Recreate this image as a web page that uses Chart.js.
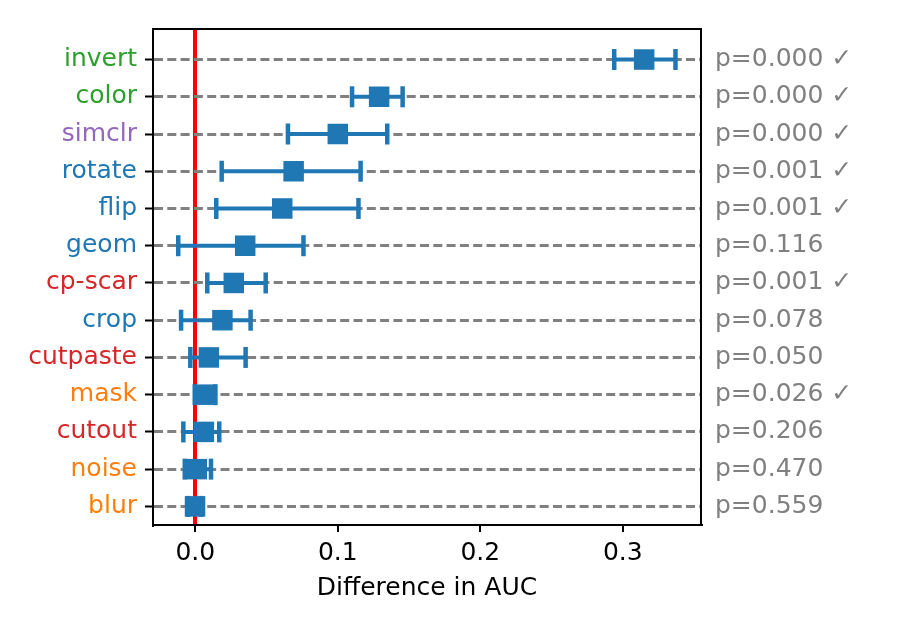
<!DOCTYPE html>
<html>
<head>
<meta charset="utf-8">
<script src="https://cdn.jsdelivr.net/npm/chart.js@4.4.1/dist/chart.umd.min.js"></script>
<style>
    html, body { margin: 0; padding: 0; background: #fff; }
</style>
</head>
<body>
<canvas id="auc-chart" width="900" height="630"></canvas>
<script>
// augmentations, top to bottom
const names = ['invert', 'color', 'simclr', 'rotate', 'flip', 'geom', 'cp-scar', 'crop', 'cutpaste', 'mask', 'cutout', 'noise', 'blur'];
const labelColors = ['#2ca02c', '#2ca02c', '#9467bd', '#1f77b4', '#1f77b4', '#1f77b4', '#d62728', '#1f77b4', '#d62728', '#ff7f0e', '#d62728', '#ff7f0e', '#ff7f0e'];

// difference in AUC: mean and confidence interval
const meanDiff = [0.315, 0.129, 0.100, 0.069, 0.061, 0.035, 0.027, 0.019, 0.0095, 0.0068, 0.006, 0.001, -0.0002];
const lowerDiff = [0.294, 0.110, 0.065, 0.0185, 0.0147, -0.012, 0.0084, -0.010, -0.0035, -0.0004, -0.0084, -0.0074, -0.005];
const upperDiff = [0.337, 0.1455, 0.1347, 0.116, 0.1145, 0.0759, 0.0494, 0.0388, 0.0353, 0.0141, 0.0168, 0.011, 0.004];

// p-values, shown on the right
const pValues = ['0.000', '0.000', '0.000', '0.001', '0.001', '0.116', '0.001', '0.078', '0.050', '0.026', '0.206', '0.470', '0.559'];

const xTicks = [0, 0.1, 0.2, 0.3];

const blue = '#1f77b4';
Chart.defaults.font.family = 'DejaVu Sans';
Chart.defaults.font.size = 25;
Chart.defaults.color = '#000';

// горизонтальные отрезки доверительных интервалов, разрывы через NaN
const ciLine = [];
names.forEach((_, i) => {
    ciLine.push({ x: lowerDiff[i], y: i });
    ciLine.push({ x: upperDiff[i], y: i });
    ciLine.push({ x: NaN, y: NaN });
});
const caps = names.flatMap((_, i) => [{ x: lowerDiff[i], y: i }, { x: upperDiff[i], y: i }]);
const markers = names.map((_, i) => ({ x: meanDiff[i], y: i }));

const yMin = -0.82;
const yMax = 12.5;
const xMin = -0.0297;
const xMax = 0.3549;
const rowTicks = axis => { axis.ticks = names.map((_, i) => ({ value: i })); };

new Chart(document.getElementById('auc-chart'), {
    type: 'scatter',
    data: {
        datasets: [
            {
                data: markers,
                order: 0,
                pointStyle: 'rect',
                pointRadius: 14.5,
                backgroundColor: blue,
                borderWidth: 0,
            },
            {
                data: caps,
                order: 1,
                pointStyle: 'line',
                rotation: 90,
                pointRadius: 10.5,
                borderColor: blue,
                borderWidth: 4.5,
            },
            {
                data: ciLine,
                order: 2,
                showLine: true,
                spanGaps: false,
                pointRadius: 0,
                borderColor: blue,
                borderWidth: 4,
            }
        ]
    },
    options: {
        responsive: false,
        animation: false,
        events: [],
        layout: { padding: 0, autoPadding: false },
        plugins: { legend: { display: false }, tooltip: { enabled: false } },
        scales: {
            x: {
                type: 'linear',
                position: 'bottom',
                min: xMin,
                max: xMax,
                afterBuildTicks: axis => { axis.ticks = xTicks.map(v => ({ value: v })); },
                afterFit: axis => { axis.height = 105; },
                ticks: {
                    padding: 6,
                    color: '#000',
                    callback: v => v.toFixed(1),
                },
                grid: {
                    // красная линия на нуле
                    color: c => (c.tick && c.tick.value === 0 ? '#ff0000' : 'rgba(0,0,0,0)'),
                    lineWidth: c => (c.tick && c.tick.value === 0 ? 4 : 0),
                    tickColor: '#000',
                    tickWidth: 2,
                    tickLength: 7,
                },
                border: { color: '#000', width: 2 },
                title: {
                    display: true,
                    text: 'Difference in AUC',
                    color: '#000',
                    padding: { top: 0, bottom: 27 },
                },
            },
            xTop: {
                type: 'linear',
                position: 'top',
                min: xMin,
                max: xMax,
                afterFit: axis => { axis.height = 26; },
                ticks: { display: false },
                grid: { drawOnChartArea: false, drawTicks: false },
                border: { color: '#000', width: 2 },
            },
            y: {
                type: 'linear',
                position: 'left',
                reverse: true,
                min: yMin,
                max: yMax,
                afterBuildTicks: rowTicks,
                afterFit: axis => { axis.width = 153; },
                ticks: {
                    padding: 8,
                    color: c => labelColors[c.index],
                    callback: v => names[v],
                },
                grid: {
                    color: '#808080',
                    lineWidth: 3,
                    tickColor: '#000',
                    tickWidth: 2,
                    tickLength: 8,
                },
                border: { color: '#000', width: 2, dash: [9, 4.3] },
            },
            yRight: {
                type: 'linear',
                position: 'right',
                reverse: true,
                min: yMin,
                max: yMax,
                afterBuildTicks: rowTicks,
                afterFit: axis => { axis.width = 199; },
                ticks: {
                    padding: 14,
                    color: '#808080',
                    callback: v => 'p=' + pValues[v] + (parseFloat(pValues[v]) < 0.05 ? ' \u2713' : ''),
                },
                grid: { drawOnChartArea: false, drawTicks: false },
                border: { color: '#000', width: 2 },
            }
        }
    }
});
</script>
</body>
</html>
